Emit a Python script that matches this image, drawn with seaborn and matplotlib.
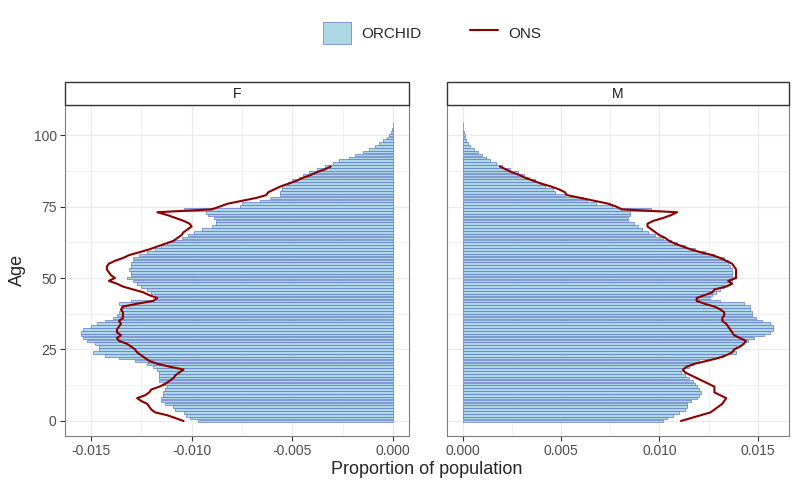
import matplotlib
matplotlib.use("Agg")
import matplotlib.pyplot as plt
import seaborn as sns
from matplotlib.patches import Patch, Rectangle
from matplotlib.lines import Line2D
from matplotlib.ticker import MultipleLocator, FuncFormatter

# ages of the ORCHID bars and of the ONS line
ages = list(range(105))
ons_ages = list(range(90))

orchid_f = [
    -0.0097, -0.0101, -0.0103, -0.0104, -0.0108, -0.0109, -0.0113, -0.0115, -0.0115, -0.0114,
    -0.0114, -0.0113, -0.0112, -0.0114, -0.0116, -0.0116, -0.0116, -0.0116, -0.0117, -0.0119,
    -0.0122, -0.0128, -0.0136, -0.0143, -0.0149, -0.0146, -0.0146, -0.0148, -0.0152, -0.0154,
    -0.0155, -0.0155, -0.0154, -0.0150, -0.0147, -0.0143, -0.0139, -0.0137, -0.0136, -0.0135,
    -0.0135, -0.0136, -0.0130, -0.0117, -0.0118, -0.0120, -0.0122, -0.0125, -0.0127, -0.0129,
    -0.0132, -0.0130, -0.0130, -0.0131, -0.0130, -0.0130, -0.0129, -0.0129, -0.0126, -0.0122,
    -0.0118, -0.0115, -0.0112, -0.0109, -0.0105, -0.0102, -0.0099, -0.0095, -0.0090, -0.0088,
    -0.0088, -0.0089, -0.0092, -0.0093, -0.0104, -0.0076, -0.0075, -0.0066, -0.0061, -0.0056,
    -0.0056, -0.0055, -0.0055, -0.0052, -0.0050, -0.0047, -0.0045, -0.0042, -0.0038, -0.0034,
    -0.0030, -0.0027, -0.0022, -0.0019, -0.0015, -0.0012, -0.0009, -0.0007, -0.0005, -0.0003,
    -0.0002, -0.00012, -0.00007, -0.00004, -0.00002,
]

orchid_m = [
    0.0102, 0.0104, 0.0107, 0.0110, 0.0113, 0.0114, 0.0114, 0.0116, 0.0119, 0.0120,
    0.0121, 0.0120, 0.0119, 0.0118, 0.0117, 0.0115, 0.0113, 0.0111, 0.0112, 0.0115,
    0.0117, 0.0120, 0.0127, 0.0133, 0.0139, 0.0138, 0.0139, 0.0142, 0.0145, 0.0148,
    0.0153, 0.0156, 0.0158, 0.0158, 0.0156, 0.0152, 0.0149, 0.0147, 0.0147, 0.0146,
    0.0146, 0.0143, 0.0131, 0.0126, 0.0127, 0.0129, 0.0131, 0.0133, 0.0136, 0.0137,
    0.0138, 0.0137, 0.0137, 0.0137, 0.0136, 0.0135, 0.0135, 0.0133, 0.0128, 0.0123,
    0.0118, 0.0113, 0.0109, 0.0106, 0.0102, 0.0098, 0.0094, 0.0091, 0.0089, 0.0087,
    0.0084, 0.0084, 0.0085, 0.0085, 0.0096, 0.0076, 0.0068, 0.0063, 0.0061, 0.0052,
    0.0047, 0.0046, 0.0042, 0.0040, 0.0037, 0.0034, 0.0031, 0.0028, 0.0024, 0.0020,
    0.0017, 0.0014, 0.0012, 0.0010, 0.0008, 0.0006, 0.0004, 0.0003, 0.0002, 0.00015,
    0.0001, 0.00007, 0.00004, 0.00002, 0.00001,
]

ons_f = [
    -0.0104, -0.0108, -0.0112, -0.0118, -0.0120, -0.0121, -0.0122, -0.0125, -0.0127, -0.0123,
    -0.0121, -0.0120, -0.0116, -0.0113, -0.0111, -0.0109, -0.0108, -0.0106, -0.0104, -0.0111,
    -0.0117, -0.0121, -0.0123, -0.0125, -0.0127, -0.0128, -0.0130, -0.0132, -0.0136, -0.0137,
    -0.0135, -0.0137, -0.0137, -0.0136, -0.0135, -0.0136, -0.0134, -0.0134, -0.0134, -0.0135,
    -0.0134, -0.0127, -0.0119, -0.0117, -0.0121, -0.0124, -0.0129, -0.0134, -0.0137, -0.0141,
    -0.0138, -0.0140, -0.0141, -0.0142, -0.0142, -0.0141, -0.0138, -0.0134, -0.0131, -0.0126,
    -0.0121, -0.0117, -0.0113, -0.0109, -0.0107, -0.0105, -0.0104, -0.0102, -0.0100, -0.0101,
    -0.0104, -0.0108, -0.0112, -0.0117, -0.0090, -0.0086, -0.0082, -0.0075, -0.0068, -0.0063,
    -0.0062, -0.0059, -0.0056, -0.0052, -0.0048, -0.0045, -0.0041, -0.0038, -0.0034, -0.0031,
]

ons_m = [
    0.0111, 0.0116, 0.0121, 0.0126, 0.0128, 0.0130, 0.0132, 0.0133, 0.0134, 0.0131,
    0.0128, 0.0128, 0.0128, 0.0125, 0.0122, 0.0119, 0.0116, 0.0113, 0.0112, 0.0114,
    0.0118, 0.0124, 0.0130, 0.0134, 0.0137, 0.0138, 0.0141, 0.0143, 0.0144, 0.0141,
    0.0138, 0.0137, 0.0136, 0.0135, 0.0134, 0.0132, 0.0132, 0.0133, 0.0133, 0.0131,
    0.0128, 0.0123, 0.0119, 0.0119, 0.0123, 0.0127, 0.0128, 0.0134, 0.0137, 0.0135,
    0.0139, 0.0139, 0.0139, 0.0139, 0.0138, 0.0137, 0.0134, 0.0131, 0.0127, 0.0121,
    0.0116, 0.0112, 0.0108, 0.0105, 0.0103, 0.0100, 0.0098, 0.0096, 0.0094, 0.0094,
    0.0097, 0.0102, 0.0106, 0.0109, 0.0081, 0.0078, 0.0074, 0.0067, 0.0060, 0.0053,
    0.0052, 0.0049, 0.0045, 0.0040, 0.0036, 0.0032, 0.0029, 0.0025, 0.0022, 0.0019,
]

panels = ["F", "M"]

bar_fill = "#ADD8E6"
bar_edge = "#6078C8"
line_col = "#8B0000"
grid_col = "#EBEBEB"

sns.set_theme(style="white")
plt.rcParams["font.family"] = ["Liberation Sans", "DejaVu Sans"]

W, H = 800, 492
fig = plt.figure(figsize=(W / 100, H / 100), dpi=100)


def px_axes(x0, y0, x1, y1):
    return fig.add_axes([x0 / W, 1 - y1 / H, (x1 - x0) / W, (y1 - y0) / H])


def fmt(v, pos):
    if abs(v) < 1e-12:
        v = 0.0
    return f"{v:.3f}"


def draw_panel(ax, vals, ons, label, x0, x1, show_y):
    ax.barh(ages, vals, height=0.9, color=bar_fill, edgecolor=bar_edge,
            linewidth=0.5, zorder=2)
    sns.lineplot(x=ons, y=ons_ages, orient="y", sort=False, estimator=None,
                 color=line_col, linewidth=1.5, ax=ax, zorder=3)

    lo = min(min(vals), min(ons), 0)
    hi = max(max(vals), max(ons), 0)
    span = hi - lo
    ax.set_xlim(lo - 0.05 * span, hi + 0.05 * span)
    ax.set_ylim(-5.25, 110.5)

    ax.xaxis.set_major_locator(MultipleLocator(0.005))
    ax.xaxis.set_minor_locator(MultipleLocator(0.0025))
    ax.yaxis.set_major_locator(MultipleLocator(25))
    ax.yaxis.set_minor_locator(MultipleLocator(12.5))
    ax.xaxis.set_major_formatter(FuncFormatter(fmt))
    ax.set_axisbelow(True)
    ax.grid(which="major", color=grid_col, linewidth=0.9)
    ax.grid(which="minor", color=grid_col, linewidth=0.5)

    ax.tick_params(which="major", length=3.5, width=0.8, color="#333333",
                   labelsize=10, labelcolor="#4D4D4D", bottom=True, left=show_y,
                   labelleft=show_y, pad=2.5)
    ax.tick_params(which="minor", length=0)
    ax.set_xlabel("")
    ax.set_ylabel("")
    for sp in ax.spines.values():
        sp.set_color("#7F7F7F")
        sp.set_linewidth(0.8)

    # facet strip
    fig.add_artist(Rectangle((x0 / W, 1 - 105 / H), (x1 - x0) / W, 23 / H,
                             transform=fig.transFigure, facecolor="white",
                             edgecolor="#333333", linewidth=1.0))
    fig.text((x0 + x1) / 2 / W, 1 - 94 / H, label, ha="center", va="center",
             fontsize=10, color="#1A1A1A")


ax_f = px_axes(65, 105, 409, 436)
ax_m = px_axes(447, 105, 789, 436)
draw_panel(ax_f, orchid_f, ons_f, panels[0], 65, 409, True)
draw_panel(ax_m, orchid_m, ons_m, panels[1], 447, 789, False)

fig.text(427 / W, 1 - 469 / H, "Proportion of population", ha="center",
         va="center", fontsize=13)
fig.text(17 / W, 1 - 270 / H, "Age", ha="center", va="center",
         rotation=90, fontsize=13)

handles = [
    Patch(facecolor=bar_fill, edgecolor=bar_edge, linewidth=0.5, label="ORCHID"),
    Line2D([], [], color=line_col, linewidth=1.5, label="ONS"),
]
fig.legend(handles=handles, loc="center", bbox_to_anchor=(432 / W, 1 - 33 / H),
           ncol=2, frameon=False, fontsize=11, handlelength=1.85,
           handleheight=1.85, columnspacing=3.2, handletextpad=0.65)

fig.savefig("out.png", dpi=100)
